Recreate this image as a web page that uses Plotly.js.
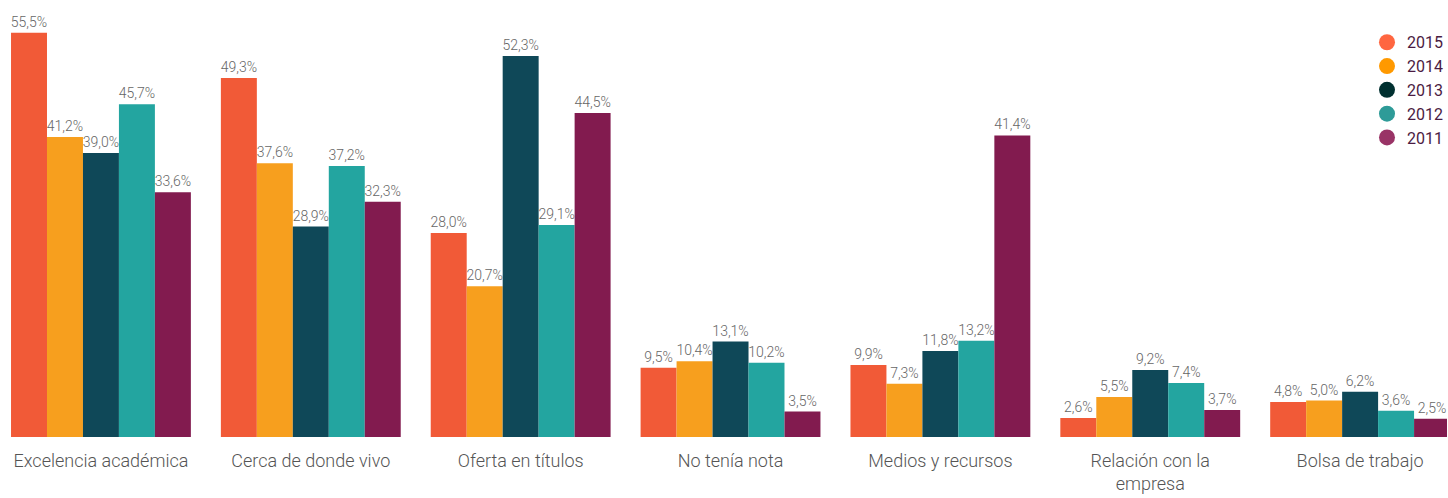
<!DOCTYPE html>
<html><head><meta charset="utf-8">
<script src="https://cdn.plot.ly/plotly-3.0.1.min.js"></script>
<style>html,body{margin:0;padding:0;background:#fff;}</style>
</head><body>
<div id="chart" style="width:1448px;height:498px;"></div>
<script>
const categories = ["Excelencia académica","Cerca de donde vivo","Oferta en títulos","No tenía nota","Medios y recursos","Relación con la<br>empresa","Bolsa de trabajo"];
const years = ["2015","2014","2013","2012","2011"];
const v2015 = [55.5, 49.3, 28.0, 9.5, 9.9, 2.6, 4.8];
const v2014 = [41.2, 37.6, 20.7, 10.4, 7.3, 5.5, 5.0];
const v2013 = [39.0, 28.9, 52.3, 13.1, 11.8, 9.2, 6.2];
const v2012 = [45.7, 37.2, 29.1, 10.2, 13.2, 7.4, 3.6];
const v2011 = [33.6, 32.3, 44.5, 3.5, 41.4, 3.7, 2.5];
const series = [v2015, v2014, v2013, v2012, v2011];
const barColors = ["#F15A37", "#F79F1E", "#0F4858", "#23A5A0", "#821B4F"];
const legendColors = ["#FF6640", "#FF9900", "#003030", "#2E9B98", "#993366"];

const fmt = v => v.toFixed(1).replace('.', ',') + '%';
const FONT = "Roboto, 'Liberation Sans', sans-serif";

const traces = [];
series.forEach((vals, i) => {
  traces.push({
    type: 'bar', x: categories, y: vals, name: years[i],
    marker: {color: barColors[i]},
    text: vals.map(fmt), textposition: 'outside', cliponaxis: false,
    constraintext: 'none',
    textfont: {family: FONT, size: 14, weight: 300, color: '#666666'},
    showlegend: false, hoverinfo: 'x+y'
  });
});
years.forEach((y, i) => {
  traces.push({
    type: 'scatter', mode: 'markers', x: [null], y: [null], name: y,
    marker: {color: legendColors[i], size: 17, symbol: 'circle'},
    showlegend: true
  });
});

const layout = {
  width: 1448, height: 498,
  margin: {l: 0, r: 0, t: 0, b: 61},
  paper_bgcolor: '#fff', plot_bgcolor: '#fff',
  barmode: 'group', bargap: 0.143, bargroupgap: 0,
  xaxis: {
    type: 'category', range: [-0.481, 6.414],
    showgrid: false, zeroline: false, showline: false, ticks: '',
    tickfont: {family: FONT, size: 18, weight: 300, color: '#555555'},
    ticklabelstandoff: 11,
    automargin: false
  },
  yaxis: {
    range: [0, 60], visible: false, fixedrange: true
  },
  legend: {
    x: 0.945, xanchor: 'left', y: 0.942, yanchor: 'top',
    font: {family: FONT, size: 16, color: '#4B1B42'},
    bgcolor: 'rgba(0,0,0,0)', tracegroupgap: 0
  },
  showlegend: true
};
Plotly.newPlot('chart', traces, layout, {displayModeBar: false, staticPlot: true});
</script>
</body></html>
